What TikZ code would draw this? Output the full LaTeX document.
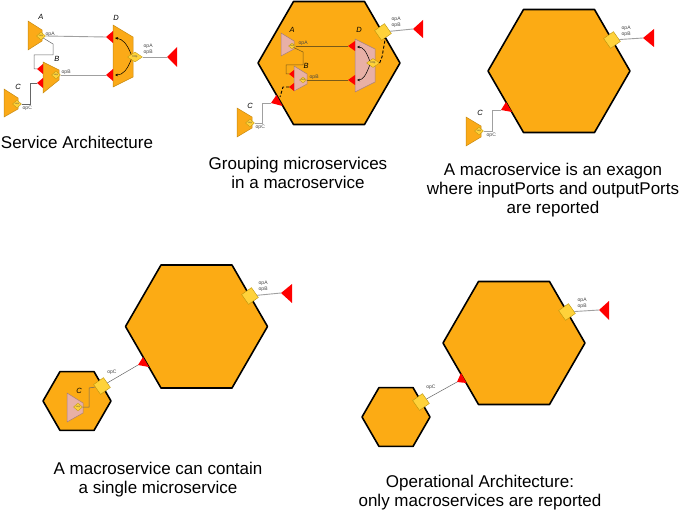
\documentclass[tikz,border=0pt]{standalone}
\usepackage{fontspec}
\setmainfont{Liberation Sans}
\usetikzlibrary{shapes.geometric,arrows.meta}
\definecolor{hexor}{HTML}{FCAB14}
\definecolor{msor}{HTML}{FBAA18}
\definecolor{msedge}{HTML}{C68A12}
\definecolor{mspk}{HTML}{E8B0A6}
\definecolor{pkedge}{HTML}{A88078}
\definecolor{portyel}{HTML}{FFD23A}
\definecolor{portedge}{HTML}{B8920A}
\definecolor{wiregray}{HTML}{A0A0A0}
\definecolor{darkwire}{HTML}{666666}
\definecolor{olwire}{HTML}{7A5A18}
\definecolor{lblgray}{HTML}{444444}
\newcommand\hexa[3]{\draw[hexline] (#1,#2) +(0:#3) -- +(60:#3) -- +(120:#3) -- +(180:#3) -- +(240:#3) -- +(300:#3) -- cycle;}
\newcommand\msv[7]{\draw[#1] (#2,#3) -- (#5,#6) -- (#5,#7) -- (#2,#4) -- cycle;}
\newcommand\inp[4]{\coordinate (#1) at (#2); \fill[inport] (#1) -- (#3) -- (#4) -- cycle;}
\begin{document}
\begin{tikzpicture}[x=1pt,y=-1pt,
  hexline/.style={draw=black,line width=1.6pt,fill=hexor,line join=round},
  msO/.style={fill=msor,draw=msedge,line width=0.5pt},
  msP/.style={fill=mspk,draw=pkedge,line width=0.5pt},
  inport/.style={fill=red},
  dport/.style={diamond,fill=portyel,draw=portedge,line width=0.3pt,inner sep=0pt,minimum width=9pt,minimum height=8pt,font=\fontsize{2.2}{2.5}\selectfont,text=lblgray},
  hport/.style={diamond,fill=portyel,draw=portedge,line width=0.3pt,inner sep=0pt,minimum width=15pt,minimum height=10pt,font=\fontsize{2.8}{3}\selectfont,text=lblgray},
  sqport/.style={rectangle,rotate=35,fill=portyel,draw=portedge,line width=0.4pt,minimum size=12pt,inner sep=0pt},
  wire/.style={draw=wiregray,line width=0.9pt},
  dwire/.style={draw=darkwire,line width=0.5pt},
  owire/.style={draw=olwire,line width=0.5pt},
  dashwire/.style={draw=black,line width=0.9pt,dash pattern=on 3pt off 2pt},
  carrow/.style={draw=black,line width=0.5pt,-{Stealth[length=3pt,width=2.5pt]}},
  oplbl/.style={font=\fontsize{5}{5.6}\selectfont,text=lblgray,inner sep=0.5pt,align=left},
  mslbl/.style={font=\fontsize{7.5}{8}\selectfont\itshape,inner sep=0pt},
  captxt/.style={font=\fontsize{17}{19}\selectfont,align=center,inner sep=0pt}
]
\useasboundingbox (0,0) rectangle (683,511);

% ================= Panel 1 : Service Architecture =================
\msv{msO}{28}{21}{50}{42}{30}{41}
\node[mslbl] (p1A) at (41,17) {A};
\msv{msO}{43}{62}{93}{59}{70}{80}
\node[mslbl] (p1B) at (57,59) {B};
\msv{msO}{4}{89}{117}{18}{98}{109}
\node[mslbl] (p1C) at (18,87) {C};
\msv{msO}{113}{25}{87}{133}{37}{77}
\node[mslbl] (p1D) at (116,18) {D};
\inp{p1Bi1}{37,69}{43,64}{43,74}
\inp{p1Bi2}{37,83}{43,78}{43,88}
\inp{p1Di1}{106,37}{113,31}{113,43}
\inp{p1Di2}{106,75}{113,69}{113,81}
\inp{p1X}{167,57}{177,47}{177,67}
\node[dport] (p1Ad) at (41,36) {smp};
\node[dport] (p1Bd) at (56,75) {smp};
\node[dport] (p1Cd) at (17,104) {smp};
\node[hport] (p1Dd) at (135,57) {http};
\draw[wire] (p1Ad.east) -- (p1Di1);
\draw[wire] (p1Bd.east) -- (p1Di2);
\draw[wire] (p1Dd.east) -- (p1X);
\draw[dwire] (p1Ad.south east) -- (53,44) -- (53,55) -- (34,55) -- (34,69) -- (p1Bi1);
\draw[dwire] (p1Cd.east) -- (30,104) -- (30,83) -- (p1Bi2);
\draw[carrow] (p1Dd.north west) .. controls (127,44) and (123,39) .. (115,38);
\draw[carrow] (p1Dd.south west) .. controls (127,70) and (123,75) .. (115,75);
\node[oplbl,anchor=south west] (p1opA) at (45,37) {opA};
\node[oplbl,anchor=south west] (p1opB) at (61,75) {opB};
\node[oplbl,anchor=north west] (p1opC) at (22,105) {opC};
\node[oplbl,anchor=south west] (p1opAB) at (143,55) {opA\\opB};
\node[captxt] (cap1) at (77,142) {Service Architecture};

% ================= Panel 2 : Grouping =================
\hexa{329}{63}{71}
\msv{msP}{281}{33}{56}{294}{41}{49}
\node[mslbl] (p2A) at (292,30) {A};
\msv{msP}{294}{66}{91}{307}{74}{84}
\node[mslbl] (p2B) at (306,66) {B};
\msv{msP}{355}{39}{92}{375}{49}{82}
\node[mslbl] (p2D) at (359,30) {D};
\msv{msO}{237}{108}{137}{252}{117}{128}
\node[mslbl] (p2C) at (250,106) {C};
\inp{p2Bi1}{289,74}{294,70}{294,78}
\inp{p2Bi2}{289,87}{294,83}{294,91}
\inp{p2Di1}{348,46}{355,41}{355,51}
\inp{p2Di2}{348,80}{355,75}{355,85}
\inp{p2H}{271,103}{276.5,95}{282.5,106}
\inp{p2X}{413,29}{423,20}{423,38}
\node[dport,minimum width=7pt,minimum height=6pt] (p2Ad) at (292,46) {smp};
\node[dport,minimum width=7pt,minimum height=6pt] (p2Bd) at (303,80) {smp};
\node[dport] (p2Cd) at (250,123) {smp};
\node[hport,minimum width=13pt,minimum height=9pt] (p2Dd) at (373,63) {http};
\node[sqport] (p2Sq) at (383,32) {};
\draw[owire] (p2Ad.east) -- (p2Di1);
\draw[owire] (p2Bd.east) -- (p2Di2);
\draw[owire] (p2Ad.south east) -- (303,52) -- (303,65) -- (286,65) -- (286,74) -- (p2Bi1);
\draw[wire] (p2Cd.east) -- (262,123) -- (262,103) -- (p2H);
\draw[wire] (p2Sq) -- (p2X);
\draw[carrow] (p2Dd.north west) .. controls (366,51) and (363,47) .. (357,47);
\draw[carrow] (p2Dd.south west) .. controls (366,75) and (363,80) .. (357,80);
\draw[dashwire] (p2Bi2) -- (283,87) -- (280,97);
\draw[dashwire] (p2Dd.east) -- (382,57) -- (385,40) -- (p2Sq);
\node[oplbl,anchor=south west] (p2opA) at (298,46) {opA};
\node[oplbl,anchor=south west] (p2opB) at (309,80) {opB};
\node[oplbl,anchor=north west] (p2opC) at (255,124) {opC};
\node[oplbl,anchor=south west] (p2opAB) at (391,28) {opA\\opB};
\node[captxt] (cap2) at (298,172.5) {Grouping microservices\\in a macroservice};

% ================= Panel 3 : macroservice =================
\hexa{559}{71}{71}
\msv{msO}{466}{117}{146}{481}{126}{137}
\node[mslbl] (p3C) at (480,113) {C};
\inp{p3H}{501,110}{506,102}{512,112}
\inp{p3X}{643,38}{654,29}{654,47}
\node[dport] (p3Cd) at (479,131) {smp};
\node[sqport] (p3Sq) at (612,40) {};
\draw[wire] (p3Cd.east) -- (492,131) -- (492,110) -- (p3H);
\draw[wire] (p3Sq) -- (p3X);
\node[oplbl,anchor=north west] (p3opC) at (486,132) {opC};
\node[oplbl,anchor=south west] (p3opAB) at (621,37) {opA\\opB};
\node[captxt] (cap3) at (553,190.5) {A macroservice is an exagon\\where inputPorts and outputPorts\\are reported};

% ================= Panel 4 : single microservice =================
\hexa{196.5}{326.5}{71}
\hexa{77}{401}{34}
\msv{msP}{67}{393}{422}{83}{403}{413}
\node[mslbl] (p4C) at (79,391) {C};
\inp{p4H}{138,365}{143,357}{149,367}
\inp{p4X}{281,293}{292,284}{292,303}
\node[dport] (p4Cd) at (78,407) {smp};
\node[sqport] (p4Sq) at (250,296) {};
\node[sqport] (p4Sqs) at (102,386) {};
\draw[dwire] (p4Cd.east) -- (89,407) -- (89,388) -- (p4Sqs);
\draw[dwire] (p4Sqs) -- (p4H);
\draw[wire] (p4Sq) -- (p4X);
\node[oplbl] (p4opC) at (112,372) {opC};
\node[oplbl,anchor=south west] (p4opAB) at (258,292) {opA\\opB};
\node[captxt] (cap4) at (158,479.5) {A macroservice can contain\\a single microservice};

% ================= Panel 5 : Operational Architecture =================
\hexa{514}{343}{71}
\hexa{396}{417}{34}
\inp{p5H}{457,382}{461,373}{466.5,383}
\inp{p5X}{599,310}{609,301}{609,320}
\node[sqport] (p5Sq) at (567,312) {};
\node[sqport] (p5Sqs) at (421,402) {};
\draw[dwire] (p5Sqs) -- (p5H);
\draw[wire] (p5Sq) -- (p5X);
\node[oplbl] (p5opC) at (431,387) {opC};
\node[oplbl,anchor=south west] (p5opAB) at (577,309) {opA\\opB};
\node[captxt] (cap5) at (480,493) {Operational Architecture:\\only macroservices are reported};
\end{tikzpicture}
\end{document}
